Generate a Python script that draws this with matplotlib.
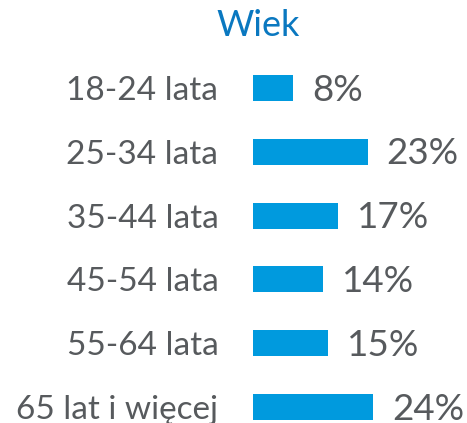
import matplotlib
matplotlib.use("Agg")
import matplotlib.pyplot as plt

categories = ["18-24 lata", "25-34 lata", "35-44 lata", "45-54 lata", "55-64 lata", "65 lat i więcej"]
values = [8, 23, 17, 14, 15, 24]
value_labels = ["8%", "23%", "17%", "14%", "15%", "24%"]
title = "Wiek"

W, H = 467, 423
fig = plt.figure(figsize=(W / 100, H / 100), dpi=100)
plt.rcParams['font.family'] = ['Lato', 'DejaVu Sans']

bar_color = "#009ADE"
text_color = "#575A5D"
title_color = "#0A78C0"

# axes placement in pixels
x0 = 253
px_per_unit = 5.0
xmax = (W - x0) / px_per_unit
spacing = 63.8
first_center = 88
top_px = first_center - spacing / 2
ax = fig.add_axes([x0 / W, 0, 1 - x0 / W, 1 - top_px / H])
ypos = list(range(len(categories)))
ax.barh(ypos, values, height=26 / spacing, color=bar_color, edgecolor="none")
ax.set_xlim(0, xmax)
ax.set_ylim((H - top_px) / spacing - 0.5, -0.5)
for s in ax.spines.values():
    s.set_visible(False)
ax.set_xticks([])
ax.set_yticks(ypos)
ax.set_yticklabels(categories, fontsize=24, color=text_color)
ax.tick_params(axis='y', length=0, pad=25)

for y, v, lab in zip(ypos, values, value_labels):
    ax.annotate(lab, (v, y), xytext=(13.5, -1.5), textcoords="offset points",
                ha="left", va="center", fontsize=26.5, color=text_color)

fig.text(258 / W, 1 - 25 / H, title, ha="center", va="center", fontsize=26, color=title_color)

fig.savefig("out.png", dpi=100)
